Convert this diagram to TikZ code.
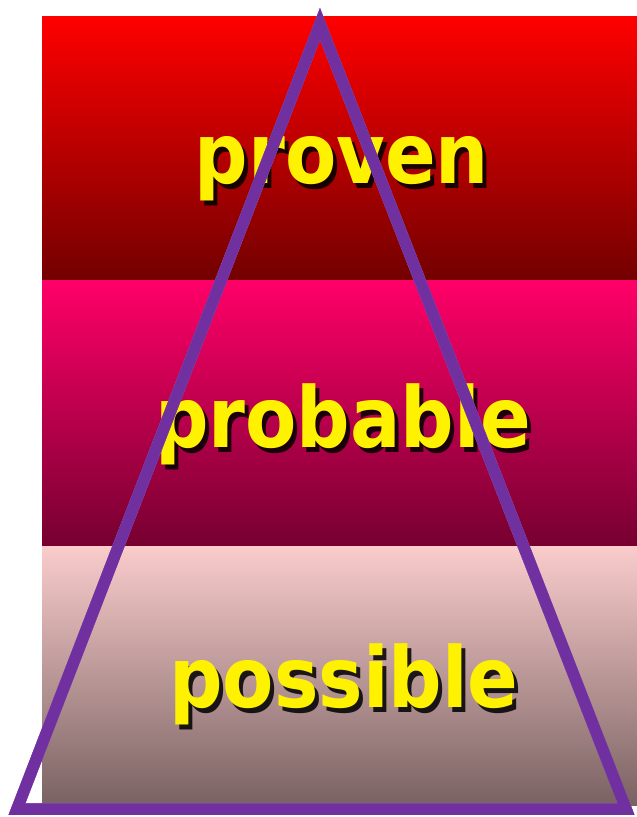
\documentclass[tikz,border=0pt]{standalone}
\usepackage{fontspec}
\setmainfont{DejaVu Sans}
\begin{document}
\begin{tikzpicture}[x=1pt,y=-1pt,
  band/.style={draw=none},
  word/.style={font=\bfseries\fontsize{84}{96}\selectfont, anchor=base, inner sep=0pt, xscale=0.89},
  wordfg/.style={word, text=yellow},
  wordbg/.style={word, text=black, opacity=0.85},
  tri/.style={line width=11.5pt, line join=miter, miter limit=20}
]
\definecolor{purp}{RGB}{112,48,160}
\definecolor{purpdark}{RGB}{70,20,100}
\definecolor{purplight}{RGB}{185,130,215}
\useasboundingbox (0,0) rectangle (637,817);
% bands
\fill[band, top color={rgb,255:red,255;green,0;blue,0}, middle color={rgb,255:red,218;green,0;blue,0}, bottom color={rgb,255:red,115;green,0;blue,0}] (42,16) rectangle (637,280);
\fill[band, top color={rgb,255:red,255;green,0;blue,104}, middle color={rgb,255:red,215;green,0;blue,88}, bottom color={rgb,255:red,118;green,0;blue,48}] (42,280) rectangle (637,546);
\fill[band, top color={rgb,255:red,250;green,204;blue,204}, middle color={rgb,255:red,214;green,174;blue,174}, bottom color={rgb,255:red,122;green,98;blue,98}] (42,546) rectangle (637,805);
% texts
\node[wordbg] (s1) at (346,188) {proven};
\node[wordfg] (t1) at (342,183) {proven};
\node[wordbg] (s2) at (347,452) {probable};
\node[wordfg] (t2) at (343,447) {probable};
\node[wordbg] (s3) at (348,712) {possible};
\node[wordfg] (t3) at (344,707) {possible};
% triangle
\coordinate (a) at (320,24);
\coordinate (bl) at (17,809);
\coordinate (br) at (626,809);
\draw[tri, purpdark, shift={(1.6,1.6)}] (a) -- (br) -- (bl) -- cycle;
\draw[tri, purplight, shift={(-1.6,-1.2)}] (a) -- (br) -- (bl) -- cycle;
\draw[tri, purp] (a) -- (br) -- (bl) -- cycle;
\end{tikzpicture}
\end{document}
